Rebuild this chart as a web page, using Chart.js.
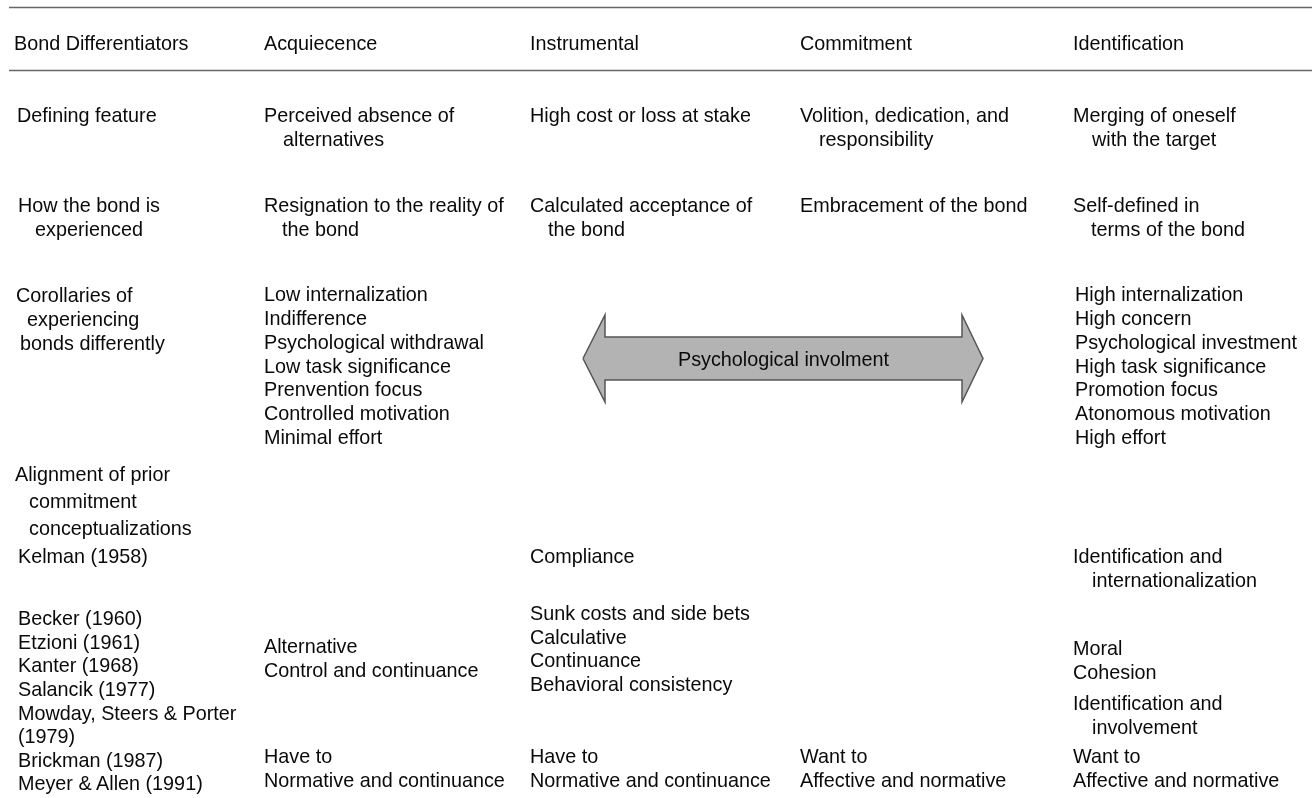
<!DOCTYPE html>
<html>
<head>
<meta charset="utf-8">
<script src="https://cdn.jsdelivr.net/npm/chart.js@4.4.1/dist/chart.umd.min.js"></script>
<style>
  html, body { margin: 0; padding: 0; background: #ffffff; }
  #wrap { position: relative; width: 1312px; height: 798px; overflow: hidden; }
  #c { position: absolute; left: 0; top: 0; }
  #txt { position: absolute; left: 0; top: 0; width: 1312px; height: 798px; }
  .t { position: absolute; white-space: nowrap; font-family: "Liberation Sans", Arial, sans-serif;
       font-size: 19.8px; color: #0a0a0a; }
</style>
</head>
<body>
<div id="wrap">
  <canvas id="c" width="1312" height="798"></canvas>
  <div id="txt"></div>
</div>
<script>
// ---------------- DATA (text content of the table) ----------------
const headers = ['Bond Differentiators', 'Acquiecence', 'Instrumental', 'Commitment', 'Identification'];
const definingFeature = ['Defining feature', 'Perceived absence of\nalternatives', 'High cost or loss at stake',
  'Volition, dedication, and\nresponsibility', 'Merging of oneself\nwith the target'];
const bondExperienced = ['How the bond is\nexperienced', 'Resignation to the reality of\nthe bond',
  'Calculated acceptance of\nthe bond', 'Embracement of the bond', 'Self-defined in\nterms of the bond'];
const corollariesLabel = ['Corollaries of', 'experiencing', 'bonds differently'];
const lowInvolvement = ['Low internalization', 'Indifference', 'Psychological withdrawal',
  'Low task significance', 'Prenvention focus', 'Controlled motivation', 'Minimal effort'];
const highInvolvement = ['High internalization', 'High concern', 'Psychological investment',
  'High task significance', 'Promotion focus', 'Atonomous motivation', 'High effort'];
const arrowLabel = 'Psychological involment';
const alignmentLabel = ['Alignment of prior', 'commitment', 'conceptualizations'];
const kelmanRow = ['Kelman (1958)', '', 'Compliance', '', 'Identification and\ninternationalization'];
const authors = ['Becker (1960)', 'Etzioni (1961)', 'Kanter (1968)', 'Salancik (1977)',
  'Mowday, Steers & Porter', '(1979)', 'Brickman (1987)', 'Meyer & Allen (1991)'];
const acquiescenceAlign = ['Alternative', 'Control and continuance'];
const instrumentalAlign = ['Sunk costs and side bets', 'Calculative', 'Continuance', 'Behavioral consistency'];
const identificationAlign = ['Moral', 'Cohesion'];
const identificationAlign2 = 'Identification and\ninvolvement';
const meyerAllen = ['', 'Have to\nNormative and continuance', 'Have to\nNormative and continuance',
  'Want to\nAffective and normative', 'Want to\nAffective and normative'];

// ---------------- LAYOUT (positions in page units) ----------------
const W = 1312, H = 798;
const colX = [14, 264, 530, 800, 1073];
const ruleYs = [7.5, 70.5];
const ruleX0 = 9;
const arrowGeom = { tipL: 583, baseL: 605, baseR: 962, tipR: 983, cy: 358.5, head: 43.5, shaft: 21.5 };

function arrowPoints(g) {
  return [
    { x: g.tipL, y: g.cy }, { x: g.baseL, y: g.cy - g.head }, { x: g.baseL, y: g.cy - g.shaft },
    { x: g.baseR, y: g.cy - g.shaft }, { x: g.baseR, y: g.cy - g.head }, { x: g.tipR, y: g.cy },
    { x: g.baseR, y: g.cy + g.head }, { x: g.baseR, y: g.cy + g.shaft }, { x: g.baseL, y: g.cy + g.shaft },
    { x: g.baseL, y: g.cy + g.head }, { x: g.tipL, y: g.cy }
  ];
}

const polygonFillPlugin = {
  id: 'polygonFill',
  beforeDatasetDraw(chart, args) {
    const ds = chart.data.datasets[args.index];
    if (!ds.polygonFill) return;
    const pts = args.meta.data;
    const ctx = chart.ctx;
    ctx.save();
    ctx.beginPath();
    pts.forEach((p, i) => { if (i === 0) ctx.moveTo(p.x, p.y); else ctx.lineTo(p.x, p.y); });
    ctx.closePath();
    ctx.fillStyle = ds.polygonFill;
    ctx.fill();
    ctx.restore();
  }
};

const chart = new Chart(document.getElementById('c'), {
  type: 'scatter',
  data: {
    datasets: [
      { data: arrowPoints(arrowGeom), showLine: true, borderColor: '#555555', borderWidth: 1.5,
        pointRadius: 0, tension: 0, fill: false, polygonFill: '#b3b3b3', clip: false },
      ...ruleYs.map(y => ({ data: [{ x: ruleX0, y: y }, { x: W, y: y }], showLine: true,
        borderColor: '#666666', borderWidth: 1.5, pointRadius: 0, fill: false, clip: false }))
    ]
  },
  options: {
    responsive: false, animation: false, events: [],
    layout: { padding: 0 },
    plugins: { legend: { display: false }, tooltip: { enabled: false } },
    scales: {
      x: { type: 'linear', min: 0, max: W, display: false },
      y: { type: 'linear', min: 0, max: H, reverse: true, display: false }
    }
  },
  plugins: [polygonFillPlugin]
});

const sx = v => chart.scales.x.getPixelForValue(v);
const sy = v => chart.scales.y.getPixelForValue(v);
const box = document.getElementById('txt');

function line(text, x, y, lh, center) {
  if (!text) return;
  const d = document.createElement('div');
  d.className = 't';
  d.textContent = text;
  d.style.lineHeight = lh + 'px';
  d.style.top = (sy(y) - lh / 2) + 'px';
  d.style.left = sx(x) + 'px';
  if (center) d.style.transform = 'translateX(-50%)';
  box.appendChild(d);
}
// wrapped cell: continuation lines indented
function cell(text, x, y, lh, indent) {
  if (!text) return;
  text.split('\n').forEach((t, i) => line(t, x + (i ? indent : 0), y + i * lh, lh));
}
function list(items, x, y, lh) {
  items.forEach((t, i) => line(t, x, y + i * lh, lh));
}

// header
headers.forEach((h, i) => line(h, colX[i], 43, 24));
// defining feature
line(definingFeature[0], 17, 115, 24);
for (let i = 1; i < 5; i++) cell(definingFeature[i], colX[i], 115, 24.5, 19);
// how the bond is experienced (row label centred)
bondExperienced[0].split('\n').forEach((t, i) => line(t, 89, 205 + i * 24, 24, true));
for (let i = 1; i < 5; i++) cell(bondExperienced[i], colX[i], 205, 24, 18);
// corollaries
line(corollariesLabel[0], 16, 295, 24);
line(corollariesLabel[1], 27, 319, 24);
line(corollariesLabel[2], 20, 343, 24);
list(lowInvolvement, colX[1], 295, 23.8);
list(highInvolvement, colX[4] + 2, 295, 23.8);
line(arrowLabel, (arrowGeom.baseL + arrowGeom.baseR) / 2, arrowGeom.cy, 24, true);
// alignment label
line(alignmentLabel[0], 15, 474, 27);
line(alignmentLabel[1], 29, 501, 27);
line(alignmentLabel[2], 29, 528, 27);
// Kelman row
line(kelmanRow[0], 18, 556, 24);
for (let i = 1; i < 5; i++) cell(kelmanRow[i], colX[i], 556, 24, 19);
// authors
list(authors, 18, 619, 23.6);
list(acquiescenceAlign, colX[1], 647, 23.5);
list(instrumentalAlign, colX[2], 614, 23.6);
list(identificationAlign, colX[4], 649, 23.5);
cell(identificationAlign2, colX[4], 703, 24, 19);
for (let i = 1; i < 5; i++) cell(meyerAllen[i], colX[i], 757, 23.5, 0);
</script>
</body>
</html>
